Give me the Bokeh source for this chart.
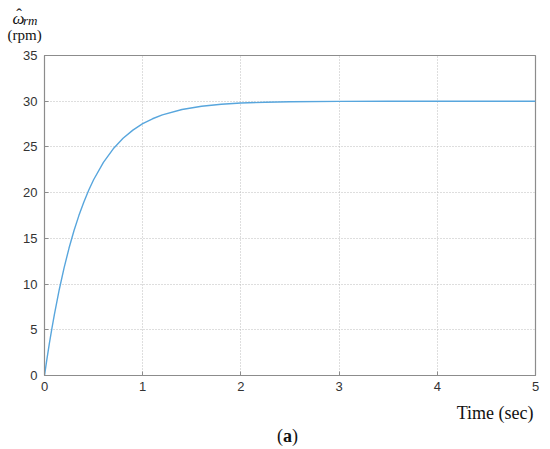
from bokeh.plotting import figure
from bokeh.models import Range1d, FixedTicker
from bokeh.layouts import column
from bokeh.core.properties import value
from bokeh.embed import file_html
from bokeh.resources import INLINE

# Data
time_s = [0, 0.025, 0.05, 0.075, 0.1, 0.15, 0.2, 0.25, 0.3, 0.35, 0.4, 0.45, 0.5, 0.6, 0.7,
          0.8, 0.9, 1.0, 1.1, 1.2, 1.4, 1.6, 1.8, 2.0, 2.25, 2.5, 3.0, 3.5, 4.0, 4.5, 5.0]
speed_rpm = [0, 1.82, 3.53, 5.13, 6.64, 9.38, 11.80, 13.94, 15.83, 17.49, 18.96, 20.26, 21.41,
             23.31, 24.79, 25.94, 26.84, 27.54, 28.08, 28.51, 29.09, 29.45, 29.67, 29.80,
             29.89, 29.94, 29.98, 29.99, 30.0, 30.0, 30.0]
x_ticks = [0, 1, 2, 3, 4, 5]
y_ticks = [0, 5, 10, 15, 20, 25, 30, 35]
y_label_main = "\u03c9"
y_label_hat = "\u02c6"
y_label_sub = "rm"
y_label_unit = "(rpm)"
x_label = "Time (sec)"
panel_label = ["(", "a", ")"]

W = 542
SERIF = "Liberation Serif"
TXT = "#111111"


def text_panel(h):
    f = figure(width=W, height=h, output_backend="svg", toolbar_location=None,
               title=None, x_range=Range1d(0, W), y_range=Range1d(h, 0),
               x_axis_location=None, y_axis_location=None, min_border=0,
               frame_align=False)
    f.outline_line_color = None
    f.xgrid.visible = False
    f.ygrid.visible = False
    f.background_fill_color = "white"
    f.border_fill_color = "white"
    return f


# header with the y-axis label
head = text_panel(48)
head.text(x=[12], y=[18], text=[y_label_main], text_font=value(SERIF), text_font_size="17px",
          text_font_style="italic", text_color=TXT, text_baseline="alphabetic")
head.text(x=[18.5], y=[14], text=[y_label_hat], text_font=value(SERIF), text_font_size="17px",
          text_color=TXT, text_align="center", text_baseline="alphabetic")
head.text(x=[22.5], y=[20], text=[y_label_sub], text_font=value(SERIF), text_font_size="13px",
          text_font_style="italic", text_color=TXT, text_baseline="alphabetic")
head.text(x=[7], y=[34], text=[y_label_unit], text_font=value(SERIF), text_font_size="15px",
          text_color=TXT, text_baseline="alphabetic")

# main chart
p = figure(width=W, height=349, output_backend="svg", toolbar_location=None,
           title=None, x_range=Range1d(0, 5), y_range=Range1d(0, 35),
           min_border_left=44, min_border_top=7, min_border_right=7, min_border_bottom=22,
           frame_align=False)
p.background_fill_color = "white"
p.border_fill_color = "white"
p.outline_line_color = "#8c8c8c"
p.outline_line_width = 1.2

p.line(time_s, speed_rpm, line_color="#58a6dd", line_width=1.4)

for ax in (p.xaxis[0], p.yaxis[0]):
    ax.axis_line_color = "#8c8c8c"
    ax.major_tick_line_color = "#8c8c8c"
    ax.major_tick_in = 4
    ax.major_tick_out = 0
    ax.minor_tick_line_color = None
    ax.major_label_text_font = "Liberation Sans"
    ax.major_label_text_font_size = "13px"
    ax.major_label_text_color = "#333333"

p.xaxis[0].ticker = FixedTicker(ticks=x_ticks)
p.yaxis[0].ticker = FixedTicker(ticks=y_ticks)
p.xaxis[0].major_label_standoff = 6
p.yaxis[0].major_label_standoff = 7

p.xgrid.ticker = FixedTicker(ticks=x_ticks)
p.ygrid.ticker = FixedTicker(ticks=y_ticks)
for g in (p.xgrid[0], p.ygrid[0]):
    g.grid_line_color = "#bdbdbd"
    g.grid_line_dash = "1 2"
    g.grid_line_width = 1

# footer with the x-axis label and the panel label
foot = text_panel(50)
foot.text(x=[533], y=[15], text=[x_label], text_font=value(SERIF), text_font_size="18px",
          text_color=TXT, text_align="right", text_baseline="alphabetic")
foot.text(x=[282.5], y=[38], text=[panel_label[0]], text_font=value(SERIF),
          text_font_size="18px", text_color=TXT, text_align="right", text_baseline="alphabetic")
foot.text(x=[287], y=[38], text=[panel_label[1]], text_font=value(SERIF),
          text_font_size="18px", text_font_style="bold", text_color=TXT,
          text_align="center", text_baseline="alphabetic")
foot.text(x=[291.5], y=[38], text=[panel_label[2]], text_font=value(SERIF),
          text_font_size="18px", text_color=TXT, text_align="left", text_baseline="alphabetic")

layout = column(head, p, foot, spacing=0)
open("out.html", "w").write(file_html(layout, INLINE))
